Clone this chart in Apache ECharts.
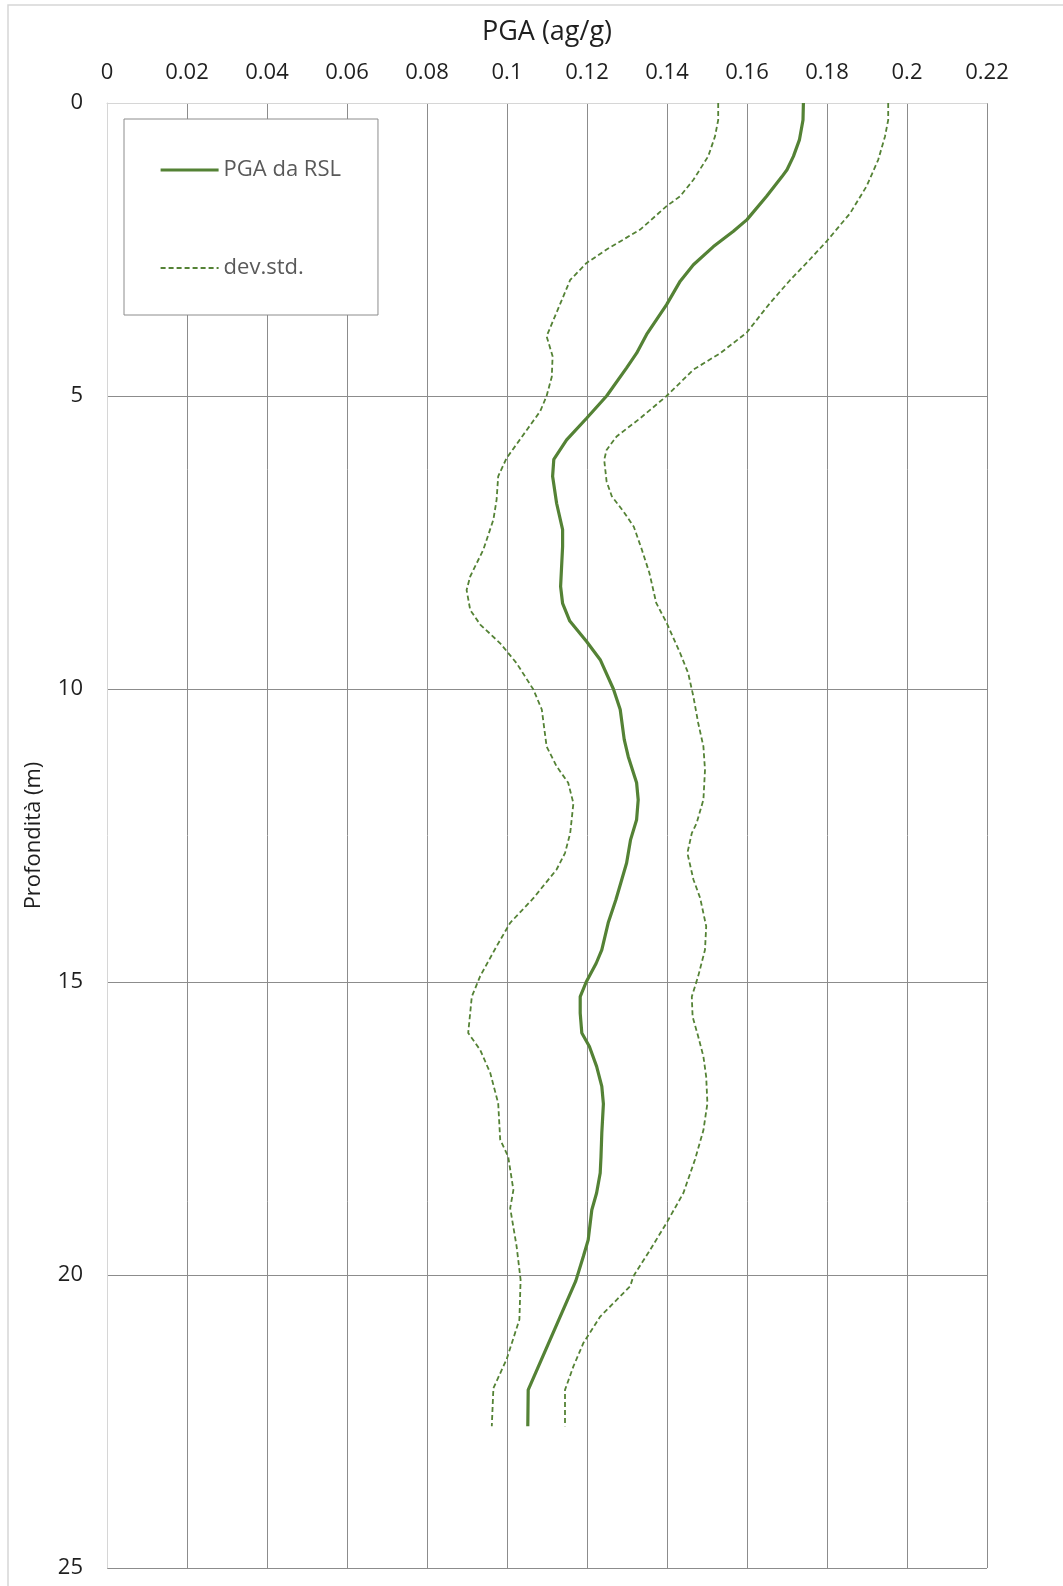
<!DOCTYPE html>
<html>
<head>
<meta charset="utf-8">
<title>PGA - Profondità</title>
<script src="https://cdn.jsdelivr.net/npm/echarts@6/dist/echarts.min.js"></script>
<style>
  html, body { margin: 0; padding: 0; background: #fff; }
  #chart { width: 1063px; height: 1586px; }
</style>
</head>
<body>
<div id="chart"></div>
<script>
// PGA profile with depth (m) and +/- one standard deviation envelope
const depthPGA = [0, 0.29, 0.63, 0.91, 1.14, 1.26, 1.59, 1.99, 2.19, 2.45, 2.76, 3.04, 3.44, 3.95, 4.27, 4.52,
  5.0, 5.38, 5.75, 6.08, 6.37, 6.83, 7.28, 7.57, 8.25, 8.54, 8.84, 9.19, 9.5, 10.0, 10.35, 10.86, 11.15,
  11.6, 11.89, 12.23, 12.57, 12.97, 13.25, 13.6, 13.99, 14.45, 14.68, 15.0, 15.25, 15.53, 15.87, 16.1,
  16.44, 16.78, 17.08, 17.58, 17.98, 18.26, 18.6, 18.89, 19.4, 19.68, 20.1, 21.96, 22.58];
const valuePGA = [0.1741, 0.174, 0.1731, 0.1716, 0.170, 0.1687, 0.1649, 0.160, 0.1566, 0.1516, 0.1466, 0.1433,
  0.1399, 0.1349, 0.1324, 0.1299, 0.1249, 0.1199, 0.1149, 0.1117, 0.1114, 0.1124, 0.1139, 0.1139, 0.1134,
  0.1139, 0.1157, 0.1199, 0.1233, 0.1266, 0.1283, 0.1293, 0.1303, 0.1324, 0.1328, 0.1324, 0.1309, 0.1299,
  0.1287, 0.1272, 0.1253, 0.1237, 0.1223, 0.1198, 0.1183, 0.1183, 0.1187, 0.1206, 0.1224, 0.1237, 0.1241,
  0.1237, 0.1235, 0.1233, 0.1224, 0.1212, 0.1203, 0.1191, 0.1172, 0.1053, 0.1052];

const depthLow = [0, 0.29, 0.57, 0.91, 1.31, 1.59, 1.76, 2.16, 2.5, 2.73, 3.02, 3.98, 4.32, 4.67, 5.0, 5.26,
  6.06, 6.37, 6.77, 7.11, 7.62, 8.08, 8.31, 8.65, 8.9, 9.22, 9.56, 10.01, 10.35, 10.98, 11.32, 11.6, 11.95,
  12.46, 12.8, 13.08, 13.57, 13.99, 14.39, 14.9, 15.25, 15.87, 16.16, 16.55, 17.07, 17.69, 17.98, 18.55,
  18.86, 19.51, 20.08, 20.76, 21.44, 21.93, 22.58];
const valueLow = [0.1528, 0.1528, 0.152, 0.1503, 0.1466, 0.1433, 0.1399, 0.1333, 0.1249, 0.1199, 0.1158,
  0.1099, 0.1114, 0.1112, 0.1099, 0.1083, 0.0999, 0.0978, 0.0974, 0.0966, 0.0941, 0.0908, 0.0899, 0.0908,
  0.0933, 0.0983, 0.1024, 0.1066, 0.1087, 0.1099, 0.1124, 0.1153, 0.1166, 0.1158, 0.1145, 0.1124, 0.1066,
  0.1008, 0.0974, 0.0933, 0.0912, 0.0903, 0.0933, 0.0958, 0.0978, 0.0983, 0.1003, 0.1016, 0.1008, 0.1024,
  0.1034, 0.1031, 0.0999, 0.0966, 0.0962];

const depthHigh = [0, 0.29, 0.57, 0.97, 1.42, 1.88, 2.36, 2.73, 3.02, 3.41, 3.92, 4.27, 4.55, 5.0, 5.38, 5.69,
  5.92, 6.09, 6.46, 6.71, 6.97, 7.23, 7.62, 8.02, 8.53, 8.87, 9.39, 9.73, 10.13, 10.58, 10.98, 11.38, 11.89,
  12.29, 12.46, 12.8, 13.25, 13.57, 14.05, 14.45, 14.9, 15.25, 15.59, 15.93, 16.27, 16.62, 17.07, 17.53,
  18.03, 18.6, 19.11, 19.57, 20.02, 20.19, 20.71, 21.16, 21.56, 21.96, 22.58];
const valueHigh = [0.1953, 0.1953, 0.1945, 0.1928, 0.1899, 0.1858, 0.1799, 0.1749, 0.1708, 0.1658, 0.1599,
  0.1533, 0.1466, 0.1399, 0.1333, 0.1274, 0.1249, 0.1243, 0.1249, 0.1262, 0.1291, 0.1317, 0.1337, 0.1356,
  0.1373, 0.1399, 0.1433, 0.1453, 0.1466, 0.1478, 0.1491, 0.1495, 0.1491, 0.1474, 0.1462, 0.1451, 0.1466,
  0.1483, 0.1498, 0.1495, 0.1478, 0.1462, 0.1464, 0.1478, 0.1491, 0.1498, 0.1501, 0.1491, 0.1470, 0.1441,
  0.1399, 0.1358, 0.1316, 0.1308, 0.1233, 0.1191, 0.1166, 0.1145, 0.1145];

const xTitle = 'PGA (ag/g)';
const yTitle = 'Profondità (m)';
const nameMain = 'PGA da RSL';
const nameStd = 'dev.std.';

const green = '#548235';
const gridGray = '#8c8c8c';
const lightGray = '#d6d6d6';
const textDark = '#1f1f1f';
const fontFamily = '"Open Sans", "Noto Sans", sans-serif';

const pairs = (depths, values) => depths.map((d, i) => [values[i], d]);

const chart = echarts.init(document.getElementById('chart'), null, { renderer: 'canvas' });

chart.setOption({
  animation: false,
  backgroundColor: '#fff',
  textStyle: { fontFamily: fontFamily },
  graphic: [{
    type: 'rect',
    shape: { x: 8, y: 5, width: 1070, height: 1600 },
    style: { fill: 'none', stroke: lightGray, lineWidth: 1.5 },
    silent: true,
    z: -10
  }],
  grid: { left: 107, right: 76, top: 103, bottom: 18, containLabel: false },
  legend: {
    data: [
      { name: nameMain, lineStyle: { width: 3.2, color: green } },
      { name: nameStd, lineStyle: { width: 1.8, color: green, type: [5, 3] } }
    ],
    orient: 'vertical',
    left: 124,
    top: 119,
    padding: [39, 37, 35, 35],
    itemGap: 74,
    itemWidth: 58,
    itemHeight: 24,
    backgroundColor: '#fff',
    borderColor: gridGray,
    borderWidth: 1,
    // only the line sample, no marker symbol
    itemStyle: { opacity: 0 },
    textStyle: { fontSize: 22, color: '#595959', fontFamily: fontFamily, lineHeight: 24 }
  },
  xAxis: {
    type: 'value',
    position: 'top',
    min: 0,
    max: 0.22,
    interval: 0.02,
    name: xTitle,
    nameLocation: 'middle',
    nameGap: 57,
    nameTextStyle: { fontSize: 27, color: textDark, fontFamily: fontFamily },
    axisLine: { show: true, lineStyle: { color: lightGray, width: 1 } },
    axisTick: { show: false },
    axisLabel: {
      fontSize: 22, color: textDark, margin: 19, fontFamily: fontFamily,
      formatter: v => String(Number(v.toFixed(2)))
    },
    splitLine: { show: true, showMinLine: false, lineStyle: { color: gridGray, width: 1 } }
  },
  yAxis: {
    type: 'value',
    inverse: true,
    min: 0,
    max: 25,
    interval: 5,
    name: yTitle,
    nameLocation: 'middle',
    nameRotate: 90,
    nameGap: 62,
    nameTextStyle: { fontSize: 22, color: textDark, fontFamily: fontFamily },
    axisLine: { show: true, lineStyle: { color: lightGray, width: 1 } },
    axisTick: { show: false },
    axisLabel: { fontSize: 22, color: textDark, margin: 24, fontFamily: fontFamily },
    splitLine: { show: true, showMinLine: false, lineStyle: { color: gridGray, width: 1 } }
  },
  series: [
    {
      name: nameMain,
      type: 'line',
      data: pairs(depthPGA, valuePGA),
      symbol: 'none',
      color: green,
      lineStyle: { color: green, width: 3.2 },
      z: 3
    },
    {
      name: nameStd,
      type: 'line',
      data: pairs(depthLow, valueLow),
      symbol: 'none',
      color: green,
      lineStyle: { color: green, width: 1.8, type: [5, 3] },
      z: 2
    },
    {
      name: nameStd,
      type: 'line',
      data: pairs(depthHigh, valueHigh),
      symbol: 'none',
      color: green,
      lineStyle: { color: green, width: 1.8, type: [5, 3] },
      z: 2
    }
  ]
});
</script>
</body>
</html>
